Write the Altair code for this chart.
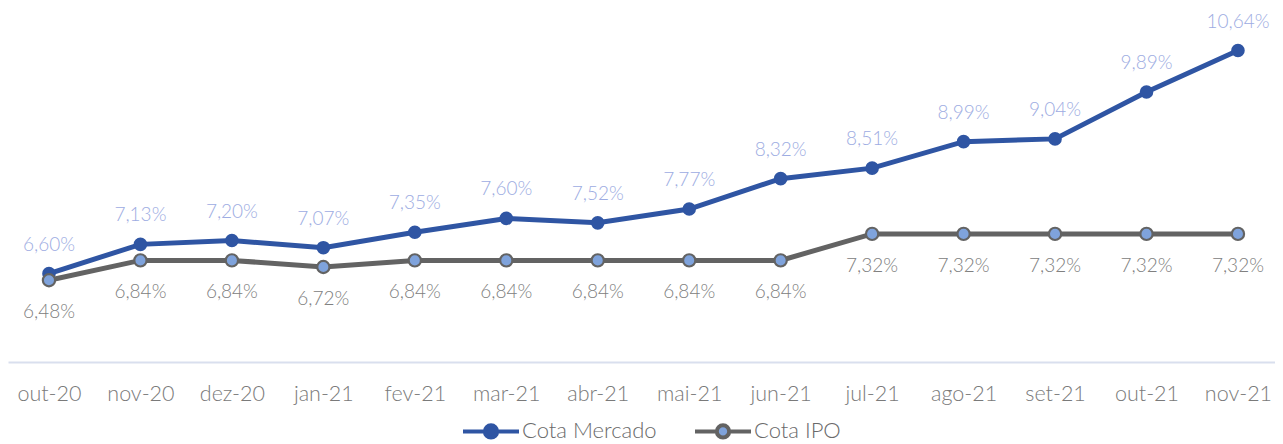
import altair as alt
import pandas as pd

months = ["out-20", "nov-20", "dez-20", "jan-21", "fev-21", "mar-21", "abr-21",
          "mai-21", "jun-21", "jul-21", "ago-21", "set-21", "out-21", "nov-21"]
mercado = [6.60, 7.13, 7.20, 7.07, 7.35, 7.60, 7.52, 7.77, 8.32, 8.51, 8.99, 9.04, 9.89, 10.64]
ipo = [6.48, 6.84, 6.84, 6.72, 6.84, 6.84, 6.84, 6.84, 6.84, 7.32, 7.32, 7.32, 7.32, 7.32]
series_names = ["Cota Mercado", "Cota IPO"]

rows = []
for s, vals in zip(series_names, [mercado, ipo]):
    for i, (m, v) in enumerate(zip(months, vals)):
        rows.append({"idx": i, "mes": m, "serie": s, "valor": v,
                     "rotulo": f"{v:.2f}".replace(".", ",") + "%"})
df = pd.DataFrame(rows)

FONT = "Lato"
W = 300
BLUE = "#2f55a3"
GREY = "#636363"
LIGHT = "#7fa3dc"

month_array = "[" + ",".join(f"'{m}'" for m in months) + "]"

x = alt.X("idx:Q",
          scale=alt.Scale(domain=[-0.448, 13.405], nice=False, zero=False),
          axis=alt.Axis(title=None, ticks=False, labelAngle=0, labelFontSize=21.5,
                        values=list(range(len(months))),
                        labelExpr=f"{month_array}[datum.value]",
                        labelColor="#7a7a7a", labelFont=FONT, labelFontWeight=W,
                        labelPadding=21, domainColor="#d9dfee", domainWidth=2,
                        labelFlush=False, labelOverlap=False, grid=False))
y = alt.Y("valor:Q", scale=alt.Scale(domain=[5, 11.41], nice=False, zero=False),
          axis=None)

stroke_scale = alt.Scale(domain=series_names, range=[BLUE, GREY])
fill_scale = alt.Scale(domain=series_names, range=[BLUE, LIGHT])

legend_path = ("M-1,0 L-0.22,0 M0.22,0 L1,0 "
               "M0.22,0 A0.22,0.22 0 1,1 -0.22,0 A0.22,0.22 0 1,1 0.22,0 Z")

legend = alt.Legend(title=None, orient="none", legendX=453, legendY=393,
                    direction="horizontal", symbolType=legend_path, symbolSize=3136,
                    symbolStrokeWidth=4, labelFontSize=22, labelFont=FONT,
                    labelFontWeight=W, labelColor="#6a6a6a", labelOffset=1,
                    columnPadding=30)

base = alt.Chart(df).encode(x=x, y=y)

def series_layers(name, first):
    b = base.transform_filter(alt.datum.serie == name)
    line = b.mark_line(strokeWidth=5).encode(
        stroke=alt.Stroke("serie:N", scale=stroke_scale,
                          legend=legend if first else None))
    pts = b.mark_point(filled=True, opacity=1,
                       size=185 if name == "Cota Mercado" else 150,
                       strokeWidth=0 if name == "Cota Mercado" else 2.2).encode(
        stroke=alt.Stroke("serie:N", scale=stroke_scale, legend=None),
        fill=alt.Fill("serie:N", scale=fill_scale, legend=None))
    if name == "Cota Mercado":
        txt = b.mark_text(dy=-29, fontSize=19, font=FONT, fontWeight=W,
                          color="#9dace2").encode(text="rotulo:N")
    else:
        txt = b.mark_text(dy=32, fontSize=19, font=FONT, fontWeight=W,
                          color="#808080").encode(text="rotulo:N")
    return [line, pts, txt]

layers = series_layers("Cota Mercado", True) + series_layers("Cota IPO", False)

chart = alt.layer(*layers).properties(
    width=1267, height=354,
    padding={"left": 0, "top": 0, "right": 0, "bottom": 82},
    autosize=alt.AutoSizeParams(type="none"),
).configure_view(stroke=None).configure_legend(
    symbolFillColor=LIGHT
)

chart.save("out.html", embed_options={"renderer": "svg", "actions": False})
